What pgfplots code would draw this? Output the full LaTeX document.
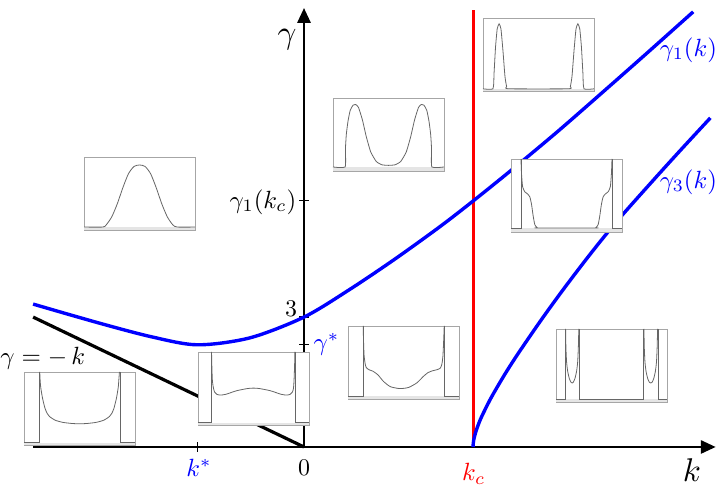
\documentclass[border=0pt]{standalone}
\usepackage{pgfplots}
\pgfplotsset{compat=1.18}
\usetikzlibrary{arrows.meta}

\pgfplotsset{
 inset/.style={width=111bp,height=73bp,scale only axis,anchor=south west,
   xmin=0,xmax=1,ymin=0,ymax=1,ticks=none,enlargelimits=false,
   axis line style={draw=black!35,line width=0.9bp},
   axis background/.style={fill=white}},
 icurve/.style={black!60,line width=0.8bp},
 iband/.style={fill=black!10,draw=none}
}
\tikzset{lab/.style={scale=2.5,inner sep=0pt},dig/.style={scale=2.4,inner sep=0pt},biglab/.style={scale=3.3,inner sep=0pt}}

\begin{document}
\begin{tikzpicture}
\begin{axis}[x=90.3bp,y=43.3bp,
  xmin=-3,xmax=4.56,ymin=0,ymax=10.14,
  axis lines=middle, enlargelimits=false, clip=false,
  axis line style={line width=2.9bp,-{Triangle[length=15bp,width=13bp]}},
  xtick={-1.183}, ytick={2.36,3,5.70},
  xticklabels={}, yticklabels={},
  tick style={line width=1.2bp,black}, major tick length=10bp]
% gamma = -k
\addplot[black,line width=3.2bp] coordinates {(-3,3)(0,0)};
% k_c
\addplot[red,line width=3bp] coordinates {(1.872,0)(1.872,10.09)};
% gamma_1(k)
\addplot[blue,line width=3.4bp,smooth] coordinates {
 (-3.0,3.30)(-2.3,2.88)(-1.7,2.55)(-1.183,2.36)(-0.6,2.52)(0,3.00)
 (0.5,3.63)(1.0,4.33)(1.5,5.08)(1.872,5.68)(2.3,6.40)(2.8,7.27)
 (3.3,8.18)(3.8,9.10)(4.31,10.05)};
% gamma_3(k)
\addplot[blue,line width=3.4bp,smooth] coordinates {
 (1.872,0)(1.874,0.078)(1.882,0.186)(1.902,0.346)(1.932,0.525)
 (1.972,0.722)(2.072,1.137)(2.222,1.672)(2.372,2.160)(2.622,2.92)
 (2.872,3.64)(3.172,4.46)(3.472,5.23)(3.872,6.17)(4.172,6.86)(4.50,7.60)};

\node[biglab,anchor=center] at (axis cs:-0.188,9.40) {$\gamma$};
\node[biglab,anchor=center] at (axis cs:4.297,-0.531) {$k$};
\node[lab,blue,anchor=east] at (axis cs:4.580,9.17) {$\gamma_1(k)$};
\node[lab,blue,anchor=east] at (axis cs:4.580,6.12) {$\gamma_3(k)$};
\node[lab,anchor=east] at (axis cs:-0.08,5.66) {$\gamma_1(k_c)$};
\node[dig,anchor=center] at (axis cs:-0.144,3.19) {3};
\node[lab,blue,anchor=west] at (axis cs:0.10,2.36) {$\gamma^{*}$};
\node[lab,anchor=west] at (axis cs:-3.367,2.06) {$\gamma=-\,k$};
\node[lab,blue,anchor=center] at (axis cs:-1.163,-0.48) {$k^{*}$};
\node[dig,anchor=center] at (axis cs:0,-0.485) {0};
\node[lab,red,anchor=center] at (axis cs:1.88,-0.62) {$k_c$};

\coordinate (in1) at (axis cs:-2.436,5.012);
\coordinate (in2) at (axis cs:0.321,6.374);
\coordinate (in3) at (axis cs:1.982,8.222);
\coordinate (in4) at (axis cs:2.292,4.965);
\coordinate (in5) at (axis cs:-3.101,0.046);
\coordinate (in6) at (axis cs:-1.174,0.508);
\coordinate (in7) at (axis cs:0.487,1.109);
\coordinate (in8) at (axis cs:2.791,1.039);
\coordinate (bbl) at (axis cs:-3.3666,-1.1316);
\coordinate (btr) at (axis cs:4.5847,10.323);
\end{axis}

% inset 1: single bump
\begin{axis}[inset,at={(in1)}]
\addplot[iband] coordinates {(0,0)(1,0)(1,0.04)(0,0.04)} -- cycle;
\addplot[icurve,smooth,tension=0.4] coordinates {(0,0.04)(0.17,0.04)(0.20,0.07)(0.25,0.18)(0.30,0.36)(0.35,0.58)(0.40,0.77)(0.45,0.87)(0.50,0.89)(0.55,0.87)(0.60,0.77)(0.65,0.58)(0.70,0.36)(0.75,0.18)(0.80,0.07)(0.84,0.04)(1,0.04)};
\end{axis}

% inset 2: two humps
\begin{axis}[inset,at={(in2)}]
\addplot[iband] coordinates {(0,0)(1,0)(1,0.055)(0,0.055)} -- cycle;
\addplot[icurve,smooth,tension=0.3] coordinates {(0,0.055)(0.109,0.055)(0.112,0.3)(0.12,0.5)(0.135,0.68)(0.155,0.83)(0.18,0.90)(0.205,0.91)(0.23,0.87)(0.265,0.70)(0.30,0.47)(0.34,0.26)(0.39,0.13)(0.44,0.085)(0.50,0.077)(0.56,0.085)(0.61,0.13)(0.66,0.26)(0.70,0.47)(0.735,0.70)(0.77,0.87)(0.795,0.91)(0.82,0.90)(0.845,0.83)(0.865,0.68)(0.88,0.5)(0.888,0.3)(0.891,0.055)(1,0.055)};
\end{axis}

% inset 3: two narrow peaks
\begin{axis}[inset,at={(in3)}]
\addplot[iband] coordinates {(0,0)(1,0)(1,0.03)(0,0.03)} -- cycle;
\addplot[icurve,smooth,tension=0.3] coordinates {(0,0.03)(0.09,0.03)(0.10,0.25)(0.113,0.6)(0.128,0.85)(0.145,0.92)(0.162,0.85)(0.18,0.55)(0.198,0.2)(0.213,0.06)(0.23,0.03)(0.77,0.03)(0.787,0.06)(0.802,0.2)(0.82,0.55)(0.838,0.85)(0.855,0.92)(0.872,0.85)(0.887,0.6)(0.90,0.25)(0.91,0.03)(1,0.03)};
\end{axis}

% inset 4: steps
\begin{axis}[inset,at={(in4)}]
\addplot[iband] coordinates {(0,0)(1,0)(1,0.055)(0,0.055)} -- cycle;
\addplot[icurve] coordinates {(0,0.055)(0.09,0.055)(0.09,1)};
\addplot[icurve,smooth,tension=0.4] coordinates {(0.09,1)(0.095,0.80)(0.105,0.62)(0.125,0.55)(0.15,0.52)(0.17,0.48)(0.185,0.38)(0.20,0.22)(0.215,0.10)(0.235,0.06)(0.25,0.055)(0.75,0.055)(0.765,0.06)(0.785,0.10)(0.80,0.22)(0.815,0.38)(0.83,0.48)(0.85,0.52)(0.875,0.55)(0.895,0.62)(0.905,0.80)(0.91,1)};
\addplot[icurve] coordinates {(0.91,1)(0.91,0.055)(1,0.055)};
\end{axis}

% inset 5: U shape
\begin{axis}[inset,at={(in5)}]
\addplot[iband] coordinates {(0,0)(1,0)(1,0.03)(0,0.03)} -- cycle;
\addplot[icurve] coordinates {(0,0.03)(0.14,0.03)(0.14,1)};
\addplot[icurve,smooth,tension=0.4] coordinates {(0.142,1)(0.145,0.9)(0.15,0.8)(0.16,0.7)(0.17,0.62)(0.19,0.5)(0.21,0.43)(0.23,0.39)(0.28,0.34)(0.35,0.31)(0.43,0.295)(0.5,0.29)(0.57,0.295)(0.65,0.31)(0.72,0.34)(0.77,0.39)(0.79,0.43)(0.81,0.5)(0.83,0.62)(0.84,0.7)(0.85,0.8)(0.855,0.9)(0.86,1)};
\addplot[icurve] coordinates {(0.865,1)(0.865,0.03)(1,0.03)};
\end{axis}

% inset 6: near gamma*
\begin{axis}[inset,at={(in6)}]
\addplot[iband] coordinates {(0,0)(1,0)(1,0.03)(0,0.03)} -- cycle;
\addplot[icurve] coordinates {(0,0.03)(0.12,0.03)(0.12,1)};
\addplot[icurve,smooth,tension=0.4] coordinates {(0.122,1)(0.125,0.8)(0.13,0.6)(0.14,0.5)(0.15,0.45)(0.17,0.42)(0.2,0.41)(0.25,0.42)(0.35,0.47)(0.45,0.50)(0.5,0.505)(0.55,0.50)(0.65,0.47)(0.75,0.42)(0.8,0.41)(0.83,0.42)(0.85,0.45)(0.86,0.5)(0.865,0.6)(0.87,0.8)(0.873,1)};
\addplot[icurve] coordinates {(0.875,1)(0.875,0.03)(1,0.03)};
\end{axis}

% inset 7
\begin{axis}[inset,at={(in7)}]
\addplot[iband] coordinates {(0,0)(1,0)(1,0.04)(0,0.04)} -- cycle;
\addplot[icurve] coordinates {(0,0.04)(0.135,0.04)(0.135,1)};
\addplot[icurve,smooth,tension=0.4] coordinates {(0.137,1)(0.14,0.8)(0.145,0.6)(0.155,0.48)(0.165,0.43)(0.19,0.40)(0.225,0.38)(0.27,0.33)(0.32,0.24)(0.38,0.17)(0.45,0.145)(0.5,0.145)(0.55,0.16)(0.62,0.22)(0.68,0.31)(0.72,0.36)(0.76,0.385)(0.8,0.40)(0.83,0.42)(0.845,0.47)(0.855,0.58)(0.862,0.8)(0.867,1)};
\addplot[icurve] coordinates {(0.87,1)(0.87,0.04)(1,0.04)};
\end{axis}

% inset 8
\begin{axis}[inset,at={(in8)}]
\addplot[iband] coordinates {(0,0)(1,0)(1,0.04)(0,0.04)} -- cycle;
\addplot[icurve] coordinates {(0,0.04)(0.084,0.04)(0.084,1)};
\addplot[icurve,smooth,tension=0.4] coordinates {(0.086,1)(0.089,0.75)(0.095,0.55)(0.105,0.42)(0.12,0.32)(0.135,0.27)(0.145,0.26)(0.155,0.27)(0.17,0.32)(0.185,0.42)(0.195,0.55)(0.201,0.75)(0.205,1)};
\addplot[icurve] coordinates {(0.213,1)(0.213,0.04)(0.79,0.04)(0.79,1)};
\addplot[icurve,smooth,tension=0.4] coordinates {(0.792,1)(0.795,0.75)(0.801,0.55)(0.811,0.42)(0.826,0.32)(0.841,0.27)(0.853,0.26)(0.865,0.27)(0.88,0.32)(0.895,0.42)(0.905,0.55)(0.911,0.75)(0.915,1)};
\addplot[icurve] coordinates {(0.919,1)(0.919,0.04)(1,0.04)};
\end{axis}

\pgfresetboundingbox
\path[use as bounding box] (bbl) rectangle (btr);
\end{tikzpicture}
\end{document}
